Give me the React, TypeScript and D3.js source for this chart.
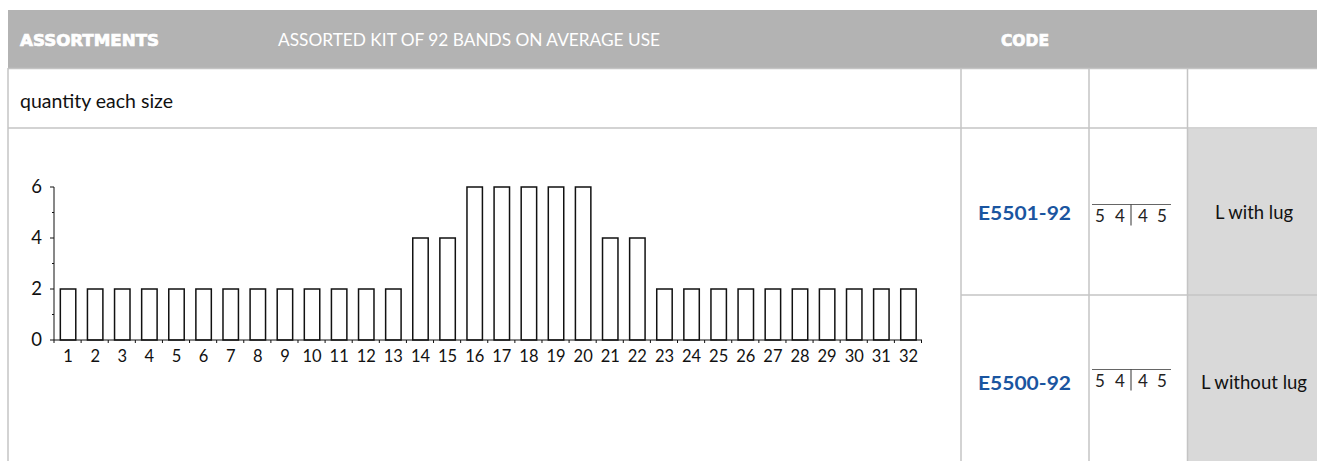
import React, { useEffect, useRef } from "react";
import * as d3 from "d3";

const sizes = ["1","2","3","4","5","6","7","8","9","10","11","12","13","14","15","16","17","18","19","20","21","22","23","24","25","26","27","28","29","30","31","32"];
const quantities = [2,2,2,2,2,2,2,2,2,2,2,2,2,4,4,6,6,6,6,6,4,4,2,2,2,2,2,2,2,2,2,2];
const yTicks = [0, 2, 4, 6];
const yMinorTicks = [1, 3, 5];
const headerTitle = "ASSORTMENTS";
const headerSubtitle = "ASSORTED KIT OF 92 BANDS ON AVERAGE USE";
const headerCode = "CODE";
const rowLabel = "quantity each size";
const codes = ["E5501-92", "E5500-92"];
const codeDigits = [["5", "4", "4", "5"], ["5", "4", "4", "5"]];
const descriptions = ["L with lug", "L without lug"];

const W = 1317;
const H = 461;
const FONT = "Lato, 'Noto Sans', sans-serif";

export default function App() {
  const ref = useRef<SVGSVGElement>(null);

  useEffect(() => {
    const svg = d3.select(ref.current);
    svg.selectAll("*").remove();
    const lineCol = "#c4c4c4";

    // header band
    svg.append("rect").attr("x", 8).attr("y", 10).attr("width", W - 8).attr("height", 58).attr("fill", "#b3b3b3");
    svg.append("text").attr("x", 20).attr("y", 46).attr("fill", "#fff").attr("stroke", "#fff").attr("stroke-width", 0.7)
      .attr("font-family", "'DejaVu Sans', sans-serif").attr("font-weight", "bold").attr("font-size", 15.5)
      .attr("textLength", 139).attr("lengthAdjust", "spacingAndGlyphs").text(headerTitle);
    svg.append("text").attr("x", 278).attr("y", 46).attr("fill", "#fff")
      .attr("font-family", FONT).attr("font-size", 17.5)
      .attr("textLength", 382).attr("lengthAdjust", "spacingAndGlyphs").text(headerSubtitle);
    svg.append("text").attr("x", 1025).attr("y", 46).attr("fill", "#fff").attr("stroke", "#fff").attr("stroke-width", 0.7)
      .attr("text-anchor", "middle")
      .attr("font-family", "'DejaVu Sans', sans-serif").attr("font-weight", "bold").attr("font-size", 15.5)
      .attr("textLength", 48).attr("lengthAdjust", "spacingAndGlyphs").text(headerCode);

    // gray description cell
    svg.append("rect").attr("x", 1188).attr("y", 129).attr("width", W - 1188).attr("height", H - 129).attr("fill", "#d9d9d9");

    // grid lines
    const hl = (x1: number, x2: number, y: number) =>
      svg.append("line").attr("x1", x1).attr("x2", x2).attr("y1", y).attr("y2", y).attr("stroke", lineCol).attr("stroke-width", 1.5);
    const vl = (x: number, y1: number, y2: number) =>
      svg.append("line").attr("x1", x).attr("x2", x).attr("y1", y1).attr("y2", y2).attr("stroke", lineCol).attr("stroke-width", 1.5);
    hl(8, W, 68.5);
    hl(8, W, 128);
    hl(961, W, 295);
    vl(8, 68, H);
    vl(961, 68, H);
    vl(1089, 68, H);
    vl(1187.5, 68, H);

    svg.append("text").attr("x", 20).attr("y", 108).attr("fill", "#111")
      .attr("font-family", FONT).attr("font-size", 18.5)
      .attr("textLength", 153).attr("lengthAdjust", "spacingAndGlyphs").text(rowLabel);

    // chart
    const x = d3.scaleBand<string>().domain(sizes).range([54, 921.5]).paddingInner(0.43).paddingOuter(0.215);
    const y = d3.scaleLinear().domain([0, 6]).range([340, 187]);
    const g = svg.append("g");
    const off = (x.step() - x.bandwidth()) / 2;

    g.selectAll("rect.bar").data(quantities).enter().append("rect")
      .attr("class", "bar")
      .attr("x", (_d, i) => (x(sizes[i]) as number) + 0.5)
      .attr("y", d => y(d))
      .attr("width", x.bandwidth())
      .attr("height", d => y(0) - y(d))
      .attr("fill", "#fff").attr("stroke", "#111").attr("stroke-width", 1.5);

    // x axis
    g.append("line").attr("x1", 54).attr("x2", 922).attr("y1", y(0)).attr("y2", y(0)).attr("stroke", "#111").attr("stroke-width", 1);
    const bounds = sizes.map(s => (x(s) as number) - off).concat([(x(sizes[sizes.length - 1]) as number) + x.bandwidth() + off]);
    g.selectAll("line.xt").data(bounds).enter().append("line")
      .attr("x1", d => d).attr("x2", d => d).attr("y1", y(0)).attr("y2", y(0) + 3)
      .attr("stroke", "#111").attr("stroke-width", 1);
    g.selectAll("text.xl").data(sizes).enter().append("text")
      .attr("x", d => (x(d) as number) + x.bandwidth() / 2 + 0.5)
      .attr("y", y(0) + 22)
      .attr("text-anchor", "middle").attr("font-family", FONT).attr("font-size", 16.5).attr("fill", "#111")
      .text(d => d);

    // y axis
    g.append("line").attr("x1", 54).attr("x2", 54).attr("y1", y(6)).attr("y2", y(0)).attr("stroke", "#111").attr("stroke-width", 1);
    g.selectAll("line.yt").data(yTicks).enter().append("line")
      .attr("x1", 50).attr("x2", 54).attr("y1", d => y(d)).attr("y2", d => y(d)).attr("stroke", "#111");
    g.selectAll("line.ym").data(yMinorTicks).enter().append("line")
      .attr("x1", 52).attr("x2", 54).attr("y1", d => y(d)).attr("y2", d => y(d)).attr("stroke", "#111");
    g.selectAll("text.yl").data(yTicks).enter().append("text")
      .attr("x", 42).attr("y", d => y(d) + 6)
      .attr("text-anchor", "end").attr("font-family", FONT).attr("font-size", 18.5).attr("fill", "#111")
      .text(d => String(d));

    // right-hand rows
    const rowBase = [220, 390];
    const lineY = [204.5, 369.5];
    codes.forEach((c, i) => {
      svg.append("text").attr("x", 978).attr("y", rowBase[i]).attr("fill", "#1a55a0")
        .attr("font-family", FONT).attr("font-weight", "bold").attr("font-size", 19)
        .attr("textLength", 93).attr("lengthAdjust", "spacingAndGlyphs").text(c);
      svg.append("line").attr("x1", 1092).attr("x2", 1171).attr("y1", lineY[i]).attr("y2", lineY[i]).attr("stroke", "#666").attr("stroke-width", 1.2);
      svg.append("line").attr("x1", 1131).attr("x2", 1131).attr("y1", lineY[i]).attr("y2", lineY[i] + 21).attr("stroke", "#333").attr("stroke-width", 1);
      const dx = [1100, 1120, 1143, 1162];
      codeDigits[i].forEach((dg, j) => {
        svg.append("text").attr("x", dx[j]).attr("y", lineY[i] + 17).attr("text-anchor", "middle")
          .attr("font-family", FONT).attr("font-size", 17).attr("fill", "#222").text(dg);
      });
      svg.append("text").attr("x", 1254).attr("y", rowBase[i] - 1).attr("text-anchor", "middle").attr("fill", "#111")
        .attr("font-family", FONT).attr("font-size", 18.5)
        .attr("textLength", i === 0 ? 78 : 106).attr("lengthAdjust", "spacingAndGlyphs").text(descriptions[i]);
    });
  }, []);

  return (
    <svg ref={ref} width={W} height={H} style={{ position: "absolute", left: 0, top: 0, background: "#fff" }} />
  );
}
